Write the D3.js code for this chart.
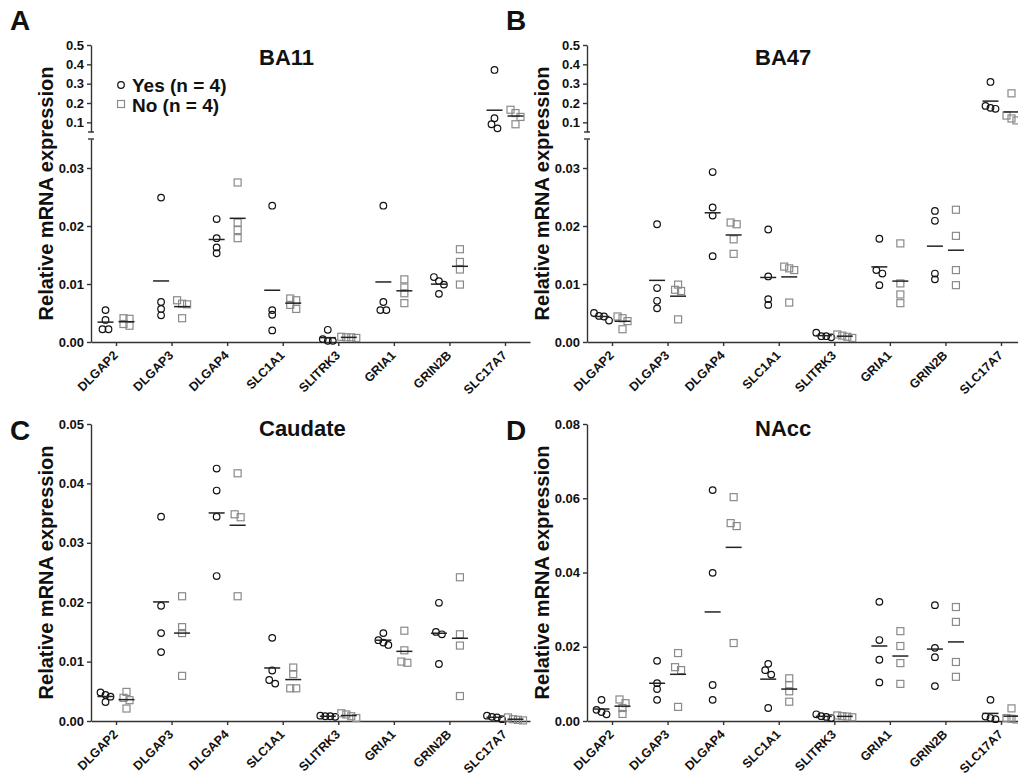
<!DOCTYPE html>
<html>
<head>
<meta charset="utf-8">
<title>Relative mRNA expression</title>
<script src="https://d3js.org/d3.v7.min.js"></script>
<style>
body { margin: 0; background: #fff; }
svg text { font-family: "Liberation Sans", Arial, sans-serif; font-weight: bold; fill: #111; }
.axis path, .axis line { stroke: #333; stroke-width: 1.4; }
</style>
</head>
<body>
<svg id="chart" width="1018" height="778"></svg>
<script>
var genes = ["DLGAP2", "DLGAP3", "DLGAP4", "SLC1A1", "SLITRK3", "GRIA1", "GRIN2B", "SLC17A7"];

// four subjects per gene, same order as genes
var ba11Yes = [[0.0055, 0.0038, 0.0022, 0.0022], [0.0249, 0.0069, 0.0057, 0.0046], [0.0212, 0.0179, 0.0163, 0.0153], [0.0235, 0.0055, 0.0047, 0.0020],
               [0.0021, 0.0005, 0.0002, 0.0002], [0.0235, 0.0069, 0.0055, 0.0055], [0.0112, 0.0105, 0.0099, 0.0083], [0.371, 0.121, 0.090, 0.069]];
var ba11No = [[0.0041, 0.0040, 0.0031, 0.0028], [0.0072, 0.0066, 0.0065, 0.0041], [0.0275, 0.0206, 0.0193, 0.0179], [0.0075, 0.0072, 0.0064, 0.0057],
              [0.0009, 0.0008, 0.0008, 0.0007], [0.0108, 0.0094, 0.0084, 0.0067], [0.0160, 0.0138, 0.0125, 0.0099], [0.165, 0.148, 0.128, 0.090]];

var ba47Yes = [[0.0050, 0.0045, 0.0044, 0.0037], [0.0203, 0.0093, 0.0071, 0.0058], [0.0293, 0.0232, 0.0218, 0.0148], [0.0194, 0.0113, 0.0074, 0.0064],
               [0.0016, 0.0010, 0.0010, 0.0008], [0.0178, 0.0124, 0.0118, 0.0098], [0.0226, 0.0209, 0.0118, 0.0108], [0.309, 0.185, 0.175, 0.170]];
var ba47No = [[0.0044, 0.0041, 0.0036, 0.0022], [0.0099, 0.0090, 0.0088, 0.0039], [0.0206, 0.0203, 0.0177, 0.0152], [0.0130, 0.0127, 0.0124, 0.0068],
              [0.0013, 0.0011, 0.0009, 0.0007], [0.0170, 0.0101, 0.0082, 0.0067], [0.0228, 0.0183, 0.0124, 0.0098], [0.250, 0.135, 0.120, 0.110]];

var caudYes = [[0.0048, 0.0044, 0.0041, 0.0032], [0.0344, 0.0194, 0.0148, 0.0116], [0.0425, 0.0388, 0.0344, 0.0244], [0.0140, 0.0085, 0.0069, 0.0063],
               [0.0009, 0.0008, 0.0008, 0.0007], [0.0148, 0.0136, 0.0132, 0.0128], [0.0199, 0.0150, 0.0146, 0.0096], [0.0009, 0.0007, 0.0006, 0.0003]];
var caudNo = [[0.0049, 0.0039, 0.0035, 0.0021], [0.0210, 0.0158, 0.0148, 0.0076], [0.0417, 0.0348, 0.0343, 0.0210], [0.0090, 0.0079, 0.0055, 0.0055],
              [0.0013, 0.0011, 0.0008, 0.0005], [0.0152, 0.0119, 0.0100, 0.0098], [0.0242, 0.0146, 0.0127, 0.0042], [0.0006, 0.0003, 0.0002, 0.0001]];

var naccYes = [[0.0057, 0.0030, 0.0024, 0.0018], [0.0162, 0.0102, 0.0086, 0.0057], [0.0622, 0.0399, 0.0097, 0.0057], [0.0154, 0.0137, 0.0125, 0.0035],
               [0.0018, 0.0013, 0.0011, 0.0008], [0.0321, 0.0218, 0.0165, 0.0104], [0.0312, 0.0197, 0.0172, 0.0094], [0.0057, 0.0012, 0.0008, 0.0005]];
var naccNo = [[0.0058, 0.0048, 0.0035, 0.0019], [0.0183, 0.0145, 0.0137, 0.0038], [0.0603, 0.0533, 0.0525, 0.0210], [0.0115, 0.0097, 0.0080, 0.0052],
              [0.0015, 0.0013, 0.0012, 0.0010], [0.0242, 0.0202, 0.0156, 0.0100], [0.0307, 0.0267, 0.0159, 0.0119], [0.0034, 0.0008, 0.0006, 0.0004]];

var lowTicks = [0, 0.01, 0.02, 0.03];
var highTicks = [0.1, 0.2, 0.3, 0.4, 0.5];
var caudTicks = [0, 0.01, 0.02, 0.03, 0.04, 0.05];
var naccTicks = [0, 0.02, 0.04, 0.06, 0.08];

var panels = [
    {letter: "A", title: "BA11", yes: ba11Yes, no: ba11No, left: 91, top: 45, bottom: 342, broken: true, legend: true, letterY: 30, titleY: 65},
    {letter: "B", title: "BA47", yes: ba47Yes, no: ba47No, left: 587, top: 45, bottom: 342, broken: true, letterY: 30, titleY: 65},
    {letter: "C", title: "Caudate", yes: caudYes, no: caudNo, left: 91, top: 424, bottom: 721, max: 0.05, ticks: caudTicks, letterY: 440, titleY: 436},
    {letter: "D", title: "NAcc", yes: naccYes, no: naccNo, left: 587, top: 424, bottom: 721, max: 0.08, ticks: naccTicks, letterY: 440, titleY: 436}
];

var svg = d3.select("#chart");
var plotWidth = 439;
var groupShift = 10.5;   // Yes left of the tick, No right of it
var yesColor = "#111", noColor = "#8a8a8a";

function drawPanel(p) {
    var g = svg.append("g");
    var x = d3.scalePoint().domain(genes).range([p.left, p.left + plotWidth]).padding(0.45);
    var yLow, yHigh, yOf;

    if (p.broken) {
        // split axis: 0 - 0.035 below, 0.05 - 0.5 above
        yLow = d3.scaleLinear().domain([0, 0.035]).range([p.bottom, 139]);
        yHigh = d3.scaleLinear().domain([0.05, 0.5]).range([132, p.top]);
        yOf = function(v) { return v > 0.035 ? yHigh(v) : yLow(v); };
        g.append("g").attr("class", "axis").attr("transform", "translate(" + p.left + ",0)")
            .call(d3.axisLeft(yLow).tickValues(lowTicks).tickFormat(d3.format(".2f")).tickSize(4).tickSizeOuter(0));
        g.append("g").attr("class", "axis").attr("transform", "translate(" + p.left + ",0)")
            .call(d3.axisLeft(yHigh).tickValues(highTicks).tickFormat(d3.format(".1f")).tickSize(4).tickSizeOuter(0));
        // little caps at the break
        [132, 139].forEach(function(yy) {
            g.append("line").attr("x1", p.left - 3).attr("x2", p.left + 3).attr("y1", yy).attr("y2", yy)
                .attr("stroke", "#333").attr("stroke-width", 1.4);
        });
    } else {
        yLow = d3.scaleLinear().domain([0, p.max]).range([p.bottom, p.top]);
        yOf = yLow;
        g.append("g").attr("class", "axis").attr("transform", "translate(" + p.left + ",0)")
            .call(d3.axisLeft(yLow).tickValues(p.ticks).tickFormat(d3.format(".2f")).tickSize(4).tickSizeOuter(0));
    }
    g.selectAll(".axis text").style("font-size", "13px");

    var xAxis = g.append("g").attr("class", "axis").attr("transform", "translate(0," + p.bottom + ")")
        .call(d3.axisBottom(x).tickSize(4).tickSizeOuter(0));
    xAxis.selectAll("text")
        .attr("x", 0).attr("y", 0).attr("dy", "0.35em")
        .attr("text-anchor", "end")
        .attr("transform", "translate(-1,11) rotate(-45)")
        .style("font-size", "12.5px");

    // y axis title
    g.append("text")
        .attr("transform", "translate(" + (p.left - 38) + "," + ((p.top + p.bottom) / 2) + ") rotate(-90)")
        .attr("text-anchor", "middle")
        .style("font-size", "20px")
        .text("Relative mRNA expression");

    g.append("text").attr("x", p.left - 81).attr("y", p.letterY).style("font-size", "28px").text(p.letter);
    g.append("text").attr("x", p.left + 168).attr("y", p.titleY).style("font-size", "22px").text(p.title);

    drawGroups(g, p.yes, x, yOf, -groupShift, "circle");
    drawGroups(g, p.no, x, yOf, groupShift, "square");

    if (p.legend) {
        var lg = g.append("g");
        lg.append("circle").attr("cx", 121).attr("cy", 85).attr("r", 3.3)
            .attr("fill", "none").attr("stroke", yesColor).attr("stroke-width", 1.2);
        lg.append("rect").attr("x", 117.5).attr("y", 100.5).attr("width", 7).attr("height", 7)
            .attr("fill", "none").attr("stroke", noColor).attr("stroke-width", 1.2);
        lg.append("text").attr("x", 132).attr("y", 92).style("font-size", "19px").text("Yes (n = 4)");
        lg.append("text").attr("x", 132).attr("y", 112).style("font-size", "19px").text("No (n = 4)");
    }
}

// GraphPad-like spreading: points at nearly the same height sit side by side
function spread(vals, yOf) {
    var pts = vals.map(function(v) { return {v: v, y: yOf(v)}; }).sort(function(a, b) { return a.y - b.y; });
    var rows = [];
    pts.forEach(function(pt) {
        var last = rows[rows.length - 1];
        if (last && Math.abs(pt.y - last[last.length - 1].y) < 4.5) last.push(pt);
        else rows.push([pt]);
    });
    rows.forEach(function(row) {
        var step = row.length > 2 ? 5 : 6;
        row.forEach(function(pt, i) { pt.dx = (i - (row.length - 1) / 2) * step; });
    });
    return pts;
}

function drawGroups(g, data, x, yOf, shift, shape) {
    data.forEach(function(vals, i) {
        var cx = x(genes[i]) + shift;
        var pts = spread(vals, yOf);
        var color = shape == "circle" ? yesColor : noColor;
        if (shape == "circle") {
            g.selectAll(null).data(pts).enter().append("circle")
                .attr("cx", function(d) { return cx + d.dx; })
                .attr("cy", function(d) { return d.y; })
                .attr("r", 3.3)
                .attr("fill", "none").attr("stroke", color).attr("stroke-width", 1.2);
        } else {
            g.selectAll(null).data(pts).enter().append("rect")
                .attr("x", function(d) { return cx + d.dx - 3.5; })
                .attr("y", function(d) { return d.y - 3.5; })
                .attr("width", 7).attr("height", 7)
                .attr("fill", "none").attr("stroke", color).attr("stroke-width", 1.2);
        }
        var m = yOf(d3.mean(vals));
        g.append("line").attr("x1", cx - 8).attr("x2", cx + 8).attr("y1", m).attr("y2", m)
            .attr("stroke", "#222").attr("stroke-width", 1.5);
    });
}

panels.forEach(drawPanel);
</script>
</body>
</html>
